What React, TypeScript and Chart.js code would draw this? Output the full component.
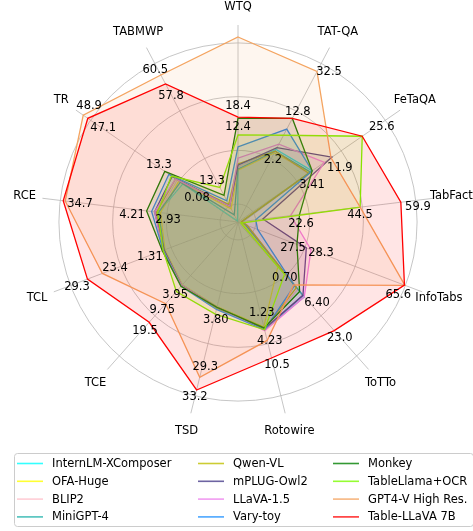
import React, { useEffect, useRef } from "react";
import { Chart, registerables } from "chart.js";

Chart.register(...registerables);

// ---------- data ----------
const AXES = ["WTQ", "TAT-QA", "FeTaQA", "TabFact", "InfoTabs", "ToTTo", "Rotowire", "TSD", "TCE", "TCL", "RCE", "TR", "TABMWP"];

const MODELS = [
  "InternLM-XComposer", "OFA-Huge", "BLIP2", "MiniGPT-4",
  "Qwen-VL", "mPLUG-Owl2", "LLaVA-1.5", "Vary-toy",
  "Monkey", "TableLlama+OCR", "GPT4-V High Res.", "Table-LLaVA 7B",
];

const COLORS = [
  "#00FFFF", "#FFFF00", "#FFC0CB", "#20B2AA",
  "#BFBF00", "#483D8B", "#EE82EE", "#1E90FF",
  "#008000", "#7CFC00", "#F4A460", "#FF0000",
];

// normalized scores (per-axis normalisation as plotted), axis order = AXES
const INTERNLM = [0.307, 0.458, 0.503, 0.028, 0.045, 0.558, 0.62, 0.491, 0.469, 0.441, 0.447, 0.374, 0.006];
const OFA_HUGE = [0.29, 0.436, 0.49, 0.017, 0.028, 0.335, 0.603, 0.486, 0.469, 0.436, 0.436, 0.402, 0.084];
const BLIP2 = [0.307, 0.447, 0.475, 0.028, 0.056, 0.503, 0.614, 0.491, 0.469, 0.441, 0.447, 0.413, 0.1];
const MINIGPT4 = [0.296, 0.447, 0.491, 0.022, 0.045, 0.547, 0.62, 0.491, 0.475, 0.441, 0.447, 0.391, 0.045];
const QWEN_VL = [0.324, 0.447, 0.48, 0.022, 0.056, 0.491, 0.614, 0.497, 0.475, 0.447, 0.458, 0.424, 0.112];
const MPLUG_OWL2 = [0.318, 0.469, 0.637, 0.14, 0.408, 0.547, 0.614, 0.491, 0.475, 0.441, 0.469, 0.447, 0.1];
const LLAVA15 = [0.357, 0.491, 0.586, 0.296, 0.436, 0.558, 0.625, 0.491, 0.475, 0.447, 0.469, 0.424, 0.1];
const VARY_TOY = [0.419, 0.586, 0.503, 0.1, 0.117, 0.475, 0.62, 0.503, 0.48, 0.447, 0.486, 0.469, 0.134];
const MONKEY = [0.58, 0.653, 0.503, 0.346, 0.352, 0.519, 0.609, 0.491, 0.48, 0.452, 0.514, 0.497, 0.168];
const TABLELLAMA_OCR = [0.486, 0.547, 0.843, 0.687, 0.017, 0.391, 0.62, 0.53, 0.519, 0.447, 0.452, 0.452, 0.218];
const GPT4V = [1.033, 0.949, 0.631, 0.687, 0.997, 0.469, 0.681, 0.893, 0.609, 0.81, 0.972, 1.05, 0.927];
const TABLE_LLAVA = [0.586, 0.653, 0.843, 0.916, 0.994, 0.81, 0.782, 0.966, 0.748, 0.899, 0.983, 1.019, 0.871];

const SERIES = [
  INTERNLM, OFA_HUGE, BLIP2, MINIGPT4,
  QWEN_VL, MPLUG_OWL2, LLAVA15, VARY_TOY,
  MONKEY, TABLELLAMA_OCR, GPT4V, TABLE_LLAVA,
];

const GRID_LEVELS = [0, 0.1, 0.4, 0.7, 1.0];
const R_MAX = 1.1;
const AXIS_LABEL_LEVEL = 1.2;

// value annotations: [angular position in axis units, text, radial level]
const ANNOTATIONS: [number, string, number][] = [
  [0.0, "18.4", 0.648], [0.0, "12.4", 0.53],
  [1.13, "32.5", 0.979], [1.03, "12.8", 0.7], [1.06, "2.2", 0.398],
  [2.04, "25.6", 0.963], [2.24, "11.9", 0.644], [2.29, "3.41", 0.462],
  [3.08, "59.9", 1.008], [3.13, "44.5", 0.682], [3.32, "22.6", 0.352],
  [4.13, "65.6", 0.982], [3.99, "28.3", 0.495], [4.16, "27.5", 0.34],
  [5.01, "23.0", 0.862], [4.9, "6.40", 0.632], [5.06, "0.70", 0.408],
  [5.95, "10.5", 0.828], [5.96, "4.23", 0.688], [5.97, "1.23", 0.525],
  [7.0, "33.2", 1.006], [6.96, "29.3", 0.83], [6.96, "3.80", 0.561],
  [7.96, "19.5", 0.8], [7.97, "9.75", 0.649], [7.97, "3.95", 0.538],
  [8.96, "29.3", 0.969], [9.01, "23.4", 0.733], [8.97, "1.31", 0.529],
  [9.99, "34.7", 0.888], [9.89, "4.21", 0.593], [9.81, "2.93", 0.391],
  [11.12, "48.9", 1.054], [11.01, "47.1", 0.918], [11.04, "13.3", 0.544], [10.85, "0.08", 0.265],
  [11.97, "60.5", 0.967], [11.99, "57.8", 0.797], [11.83, "13.3", 0.271],
];

const FONT = '"DejaVu Sans", sans-serif';
const FONT_SIZE = 11.5;

function hexToRgba(hex: string, a: number) {
  const n = parseInt(hex.slice(1), 16);
  return `rgba(${(n >> 16) & 255},${(n >> 8) & 255},${n & 255},${a})`;
}

const textPlugin = {
  id: "radarTexts",
  afterDatasetsDraw(chart: any) {
    const scale = chart.scales.r;
    const ctx = chart.ctx;
    ctx.save();
    ctx.font = `${FONT_SIZE}px ${FONT}`;
    ctx.fillStyle = "#000";
    ctx.textAlign = "center";
    ctx.textBaseline = "middle";
    AXES.forEach((name, i) => {
      const p = scale.getPointPositionForValue(i, AXIS_LABEL_LEVEL);
      ctx.fillText(name, p.x, p.y);
    });
    ANNOTATIONS.forEach(([axisPos, text, level]) => {
      const p = scale.getPointPosition(axisPos, scale.getDistanceFromCenterForValue(level));
      ctx.fillText(text, p.x, p.y);
    });
    ctx.restore();
  },
};

// legend drawn below the radar, matplotlib style (3 columns, column-major)
const legendPlugin = {
  id: "mplLegend",
  afterDraw(chart: any) {
    const ctx = chart.ctx;
    const area = chart.chartArea;
    const boxLeft = 14.5;
    const boxTop = area.bottom + 34.5;
    const boxW = 459;
    const boxH = 73;
    const colX = [17, 198, 333];
    const rowH = 17.8;
    ctx.save();
    const r = 3;
    ctx.beginPath();
    ctx.moveTo(boxLeft + r, boxTop);
    ctx.lineTo(boxLeft + boxW - r, boxTop);
    ctx.arcTo(boxLeft + boxW, boxTop, boxLeft + boxW, boxTop + r, r);
    ctx.lineTo(boxLeft + boxW, boxTop + boxH - r);
    ctx.arcTo(boxLeft + boxW, boxTop + boxH, boxLeft + boxW - r, boxTop + boxH, r);
    ctx.lineTo(boxLeft + r, boxTop + boxH);
    ctx.arcTo(boxLeft, boxTop + boxH, boxLeft, boxTop + boxH - r, r);
    ctx.lineTo(boxLeft, boxTop + r);
    ctx.arcTo(boxLeft, boxTop, boxLeft + r, boxTop, r);
    ctx.closePath();
    ctx.fillStyle = "rgba(255,255,255,0.8)";
    ctx.fill();
    ctx.strokeStyle = "#cccccc";
    ctx.lineWidth = 1;
    ctx.stroke();

    ctx.font = `${FONT_SIZE}px ${FONT}`;
    ctx.textAlign = "left";
    ctx.textBaseline = "middle";
    chart.data.datasets.forEach((ds: any, i: number) => {
      const col = Math.floor(i / 4);
      const row = i % 4;
      const x = colX[col];
      const y = boxTop + 10 + row * rowH;
      ctx.globalAlpha = 0.8;
      ctx.strokeStyle = ds.borderColor;
      ctx.lineWidth = 1.6;
      ctx.beginPath();
      ctx.moveTo(x, y);
      ctx.lineTo(x + 26, y);
      ctx.stroke();
      ctx.globalAlpha = 1;
      ctx.fillStyle = "#000";
      ctx.fillText(ds.label, x + 35, y + 0.5);
    });
    ctx.restore();
  },
};

export default function App() {
  const ref = useRef<HTMLCanvasElement | null>(null);

  useEffect(() => {
    if (!ref.current) return;
    const n = SERIES.length;
    const chart = new Chart(ref.current, {
      type: "radar",
      data: {
        labels: AXES,
        datasets: SERIES.map((values, i) => ({
          label: MODELS[i],
          data: values,
          borderColor: COLORS[i],
          backgroundColor: hexToRgba(COLORS[i], 0.1),
          borderWidth: 1.3,
          fill: true,
          pointRadius: 0,
          pointHoverRadius: 0,
          tension: 0,
          order: n - i,
        })),
      },
      options: {
        animation: false,
        responsive: false,
        events: [],
        layout: { padding: { left: 41, right: 38, top: 25, bottom: 112 } },
        plugins: { legend: { display: false }, tooltip: { enabled: false } },
        scales: {
          r: {
            min: 0,
            max: R_MAX,
            afterBuildTicks: (scale: any) => {
              scale.ticks = GRID_LEVELS.map((v) => ({ value: v }));
            },
            ticks: { display: false },
            grid: { circular: true, color: "#b8b8b8", lineWidth: 0.8 },
            angleLines: { color: "#b8b8b8", lineWidth: 0.8 },
            pointLabels: { display: false },
          },
        },
      },
      plugins: [textPlugin, legendPlugin],
    });
    return () => chart.destroy();
  }, []);

  return (
    <div style={{ position: "absolute", left: 0, top: 0, width: 473, height: 531 }}>
      <canvas ref={ref} width={473} height={531} style={{ position: "absolute", left: 0, top: 0, width: 473, height: 531 }} />
    </div>
  );
}
